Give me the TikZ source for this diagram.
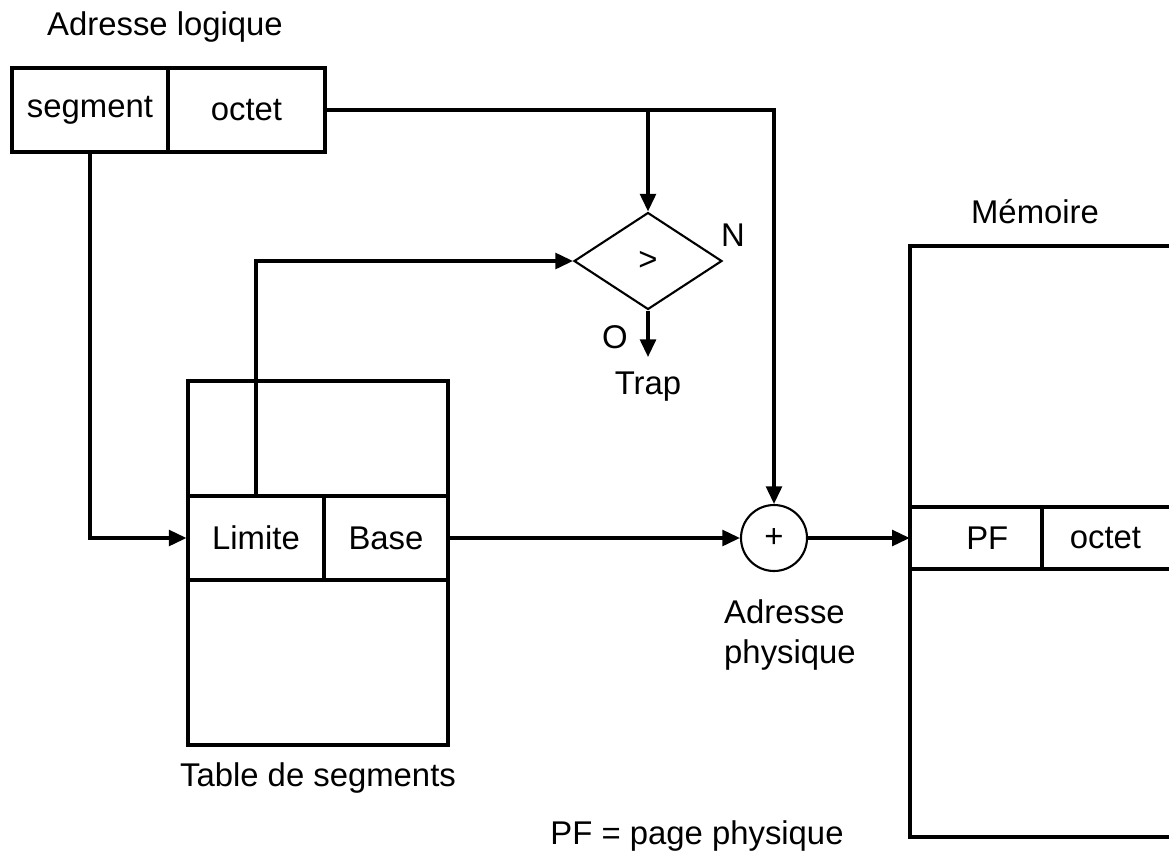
\documentclass[tikz,border=0pt]{standalone}
\usepackage{fontspec}
\setmainfont{Liberation Sans}
\usetikzlibrary{shapes.geometric,arrows.meta}

\begin{document}
\begin{tikzpicture}[
    x=0.02cm, y=-0.02cm,
    every node/.style={font=\fontsize{18.7}{22.7}\selectfont},
    cell/.style={
        draw, line width=1.8pt, inner sep=0pt,
        minimum width=#1, minimum height=1.68cm,
    },
    memcell/.style={inner sep=0pt, minimum width=#1, minimum height=1.24cm},
    arr/.style={-{Triangle[length=10pt, width=9pt]}, line width=1.8pt},
    lbl/.style={align=center},
]
\useasboundingbox (0,0) rectangle (1169,856);

% ── Adresse logique ──
\node[lbl] (logtitle) at (165,27) {Adresse logique};
\node[cell=3.12cm] (seg) at (90,110) {segment};
\node[cell=3.14cm] (oct) at (246.5,110) {octet};

% ── Table de segments ──
\node[draw, line width=1.8pt, minimum width=5.2cm, minimum height=7.28cm] (segtab) at (318,563) {};
\node[cell=2.72cm] (limite) at (256,538) {Limite};
\node[cell=2.48cm] (base) at (386,538) {Base};
\node[lbl] (tabtitle) at (318,778) {Table de segments};

% ── Comparaison ──
\node[draw, shape=diamond, line width=1.2pt, inner sep=0pt,
      minimum width=2.96cm, minimum height=1.94cm] (cmp) at (648,261) {>};
\node[lbl] (nlabel) at (733,235) {N};
\node[lbl] (olabel) at (615,337) {O};
\node[lbl, anchor=north, inner sep=0pt] (trap) at (648,372) {Trap};

% ── Addition ──
\node[draw, circle, line width=1.2pt, inner sep=0pt, minimum size=1.32cm] (plus) at (774,538) {+};
\node[align=left, anchor=west] (phys) at (718,635) {Adresse\\physique};

% ── Mémoire ──
\node[lbl] (memtitle) at (1035,212) {Mémoire};
\draw[line width=1.8pt] (1169,246) -- (910,246) -- (910,837) -- (1169,837);
\draw[line width=1.8pt] (910,507) -- (1169,507) (910,569) -- (1169,569) (1042,507) -- (1042,569);
\node[memcell=2.64cm] (pf) at (976,538) {\hspace{0.45cm}PF};
\node[memcell=2.54cm] (memoct) at (1105.5,538) {octet};

\node[lbl] (pfnote) at (697,836) {PF = page physique};

% ── Arrows ──
\draw[arr] (seg.south) |- (limite.west);
\draw[arr] (oct.east) -| (plus.north);
\draw[arr] (oct.east -| cmp.north) -- (cmp.north);
\draw[arr] (limite.north) |- (cmp.west);
\draw[arr] (cmp.south) -- ([yshift=0.3cm]trap.north);
\draw[arr] (base.east) -- (plus.west);
\draw[arr] (plus.east) -- (pf.west);

\end{tikzpicture}
\end{document}
